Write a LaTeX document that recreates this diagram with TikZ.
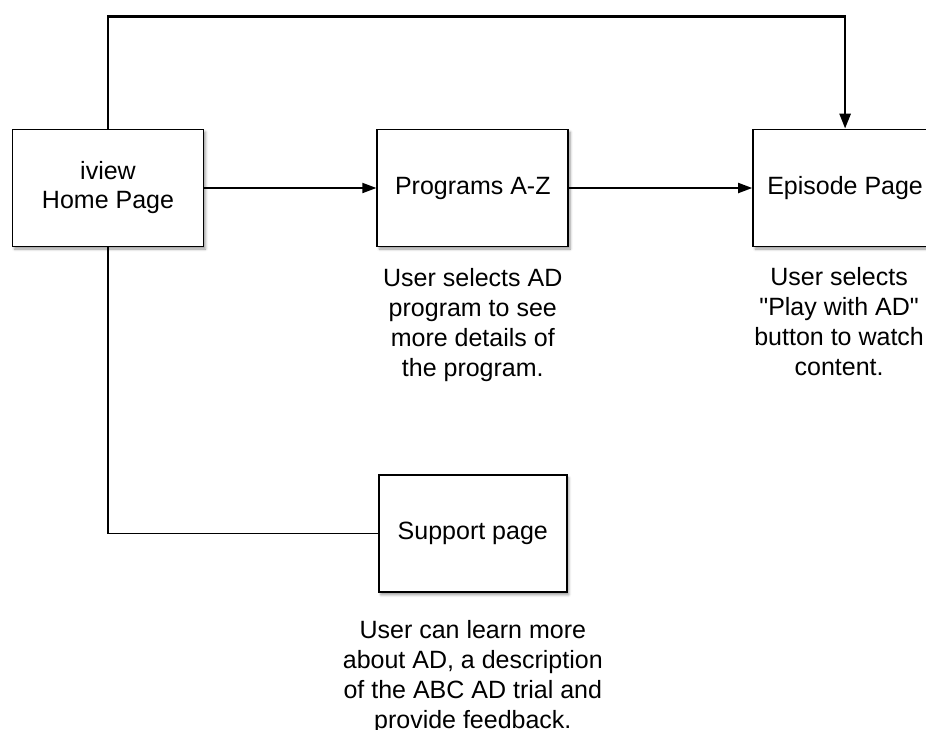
\documentclass[tikz,border=0pt]{standalone}
\usepackage{fontspec}
\setmainfont{Liberation Sans}[Ligatures=TeXOff]
\usetikzlibrary{positioning,arrows.meta,shadows.blur}

\begin{document}
\begin{tikzpicture}[x=1pt,y=-1pt,
    page/.style={draw, line width=1.8pt, fill=white, minimum width=191pt,
        minimum height=117pt, inner sep=0pt, align=center,
        font=\fontsize{25}{29}\selectfont,
        blur shadow={shadow xshift=2pt, shadow yshift=-2.5pt, shadow blur radius=2.5pt}},
    note/.style={align=center, inner sep=0pt, font=\fontsize{25}{30}\selectfont},
    link/.style={line width=1.8pt, -{Triangle[length=14pt,width=10pt]}}]
    \useasboundingbox (0,0) rectangle (926,729);

    % pages of the site
    \node[page] (home) at (108,188) {iview\\Home Page};
    \node[page, right=172pt of home] (prog) {Programs A-Z};
    \node[page, right=183pt of prog, minimum width=184pt] (episode) {Episode Page};
    \node[page, below=227pt of prog, minimum width=188pt] (support) {Support page};

    % what the user does there
    \node[note, below=21pt of prog] (progtxt) {User selects AD\\program to see\\more details of\\the program.};
    \node[note, below=20pt of episode, xshift=-6pt] (episodetxt) {User selects\\"Play with AD"\\button to watch\\content.};
    \node[note, below=27pt of support] (supporttxt) {User can learn more\\about AD, a description\\of the ABC AD trial and\\provide feedback.};

    \draw[link] (home) -- (prog);
    \draw[link] (prog) -- (episode);
    \draw[line width=2.7pt, -{Triangle[length=15pt,width=11pt]}]
        (home.north) -- ++(0,-112) -| (episode.north);
    \draw[line width=1.3pt] (home.south) |- (support.west);
\end{tikzpicture}
\end{document}
